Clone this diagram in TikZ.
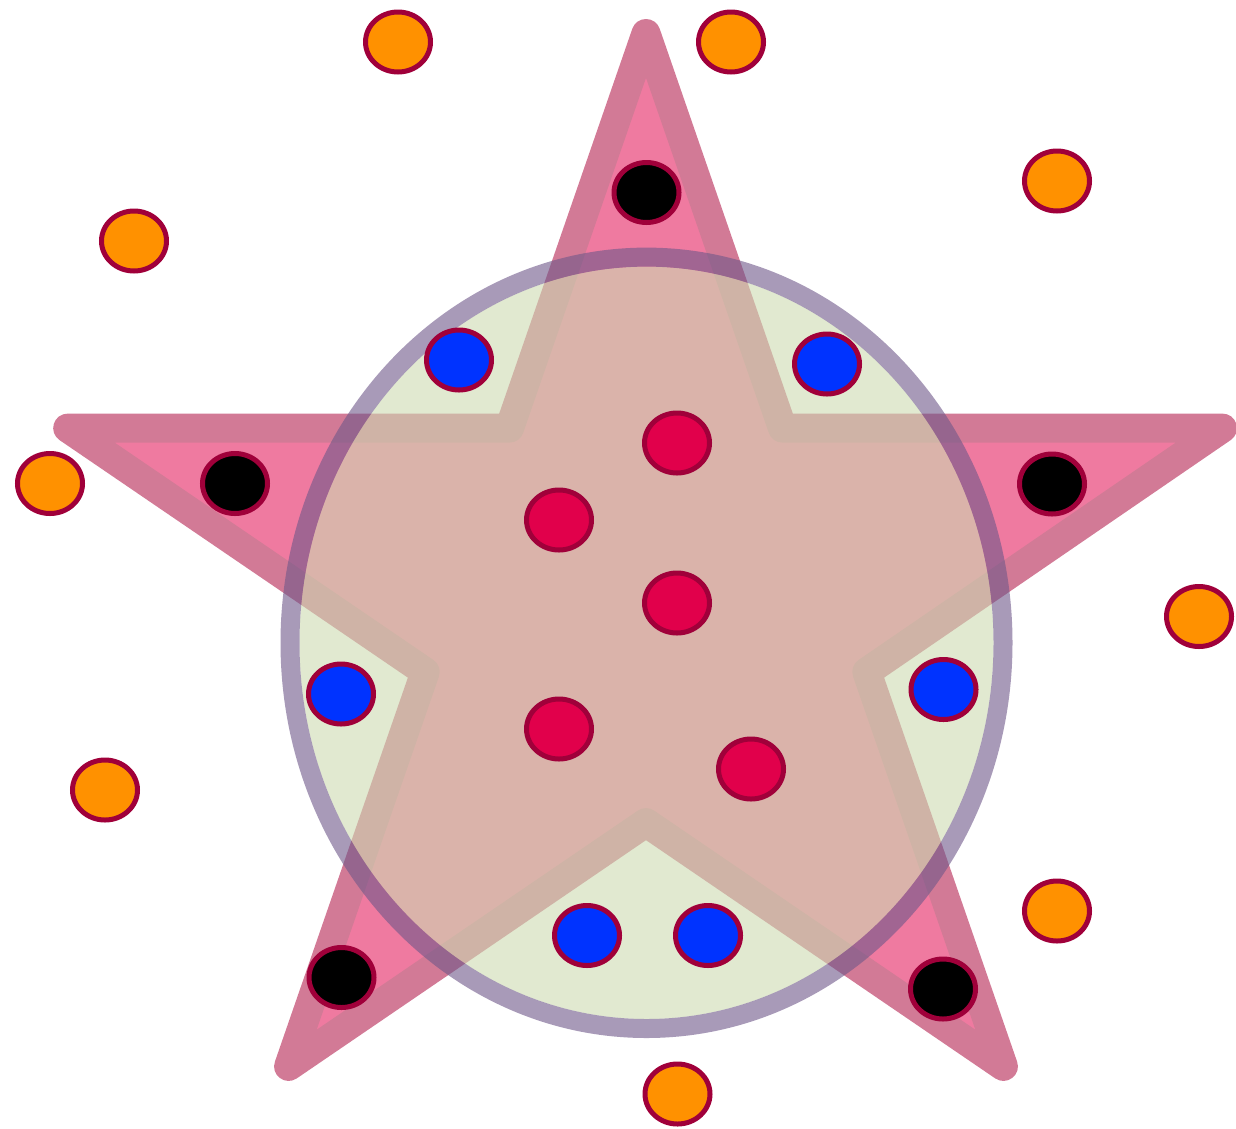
\documentclass[tikz,border=0pt]{standalone}
\usetikzlibrary{shapes.geometric}
\definecolor{dotedge}{RGB}{160,0,58}
\definecolor{dotorange}{RGB}{255,145,0}
\definecolor{dotblue}{RGB}{0,51,255}
\definecolor{dotred}{RGB}{225,0,75}
\definecolor{starfill}{RGB}{239,122,160}
\definecolor{starline}{RGB}{210,122,150}
\definecolor{ringfill}{RGB}{205,218,177}
\definecolor{ringline}{RGB}{110,87,137}
\tikzset{
  dot/.style={ellipse, draw=dotedge, line width=5pt, minimum width=65pt, minimum height=60pt, inner sep=0pt},
  odot/.style={dot, fill=dotorange},
  kdot/.style={dot, fill=black},
  bdot/.style={dot, fill=dotblue},
  rdot/.style={dot, fill=dotred},
  starshape/.style={fill=starfill, draw=starline, line width=29pt, line join=round},
}
\begin{document}
\begin{tikzpicture}[x=1pt,y=-1pt]
\useasboundingbox (0,0) rectangle (1236,1128);
% star
\coordinate (s1) at (646,33.5);
\coordinate (s2) at (782.5,428.1);
\coordinate (s3) at (1222.5,428.1);
\coordinate (s4) at (866.8,671.9);
\coordinate (s5) at (1003.4,1066.4);
\coordinate (s6) at (646,822.6);
\coordinate (s7) at (288.6,1066.4);
\coordinate (s8) at (425.2,671.9);
\coordinate (s9) at (67.7,428.1);
\coordinate (s10) at (509.5,428.1);
\path[starshape] (s1) -- (s2) -- (s3) -- (s4) -- (s5) -- (s6) -- (s7) -- (s8) -- (s9) -- (s10) -- cycle;
% circle
\coordinate (c) at (646.5,642.8);
\fill[ringfill, fill opacity=0.6] (c) ellipse [x radius=347, y radius=376.2];
\draw[ringline, draw opacity=0.6, line width=19pt] (c) ellipse [x radius=356.5, y radius=385.7];
% orange dots
\node[odot] (o1) at (398,42) {};
\node[odot] (o2) at (731,42) {};
\node[odot] (o3) at (1057,181) {};
\node[odot] (o4) at (134,241) {};
\node[odot] (o5) at (50,483.5) {};
\node[odot] (o6) at (1199,616.5) {};
\node[odot] (o7) at (105,790) {};
\node[odot] (o8) at (1057,911) {};
\node[odot] (o9) at (677.5,1094) {};
% black dots
\node[kdot] (k1) at (646.5,192.5) {};
\node[kdot] (k2) at (235,483.5) {};
\node[kdot] (k3) at (1052,484) {};
\node[kdot] (k4) at (341.5,977.5) {};
\node[kdot] (k5) at (943,989) {};
% blue dots
\node[bdot] (b1) at (459,360) {};
\node[bdot] (b2) at (827,364) {};
\node[bdot] (b3) at (341,694) {};
\node[bdot] (b4) at (943.5,689.5) {};
\node[bdot] (b5) at (587,935.5) {};
\node[bdot] (b6) at (708,935.5) {};
% red dots
\node[rdot] (r1) at (677,443) {};
\node[rdot] (r2) at (559,520) {};
\node[rdot] (r3) at (677,603) {};
\node[rdot] (r4) at (559,729) {};
\node[rdot] (r5) at (751,769) {};
\end{tikzpicture}
\end{document}
